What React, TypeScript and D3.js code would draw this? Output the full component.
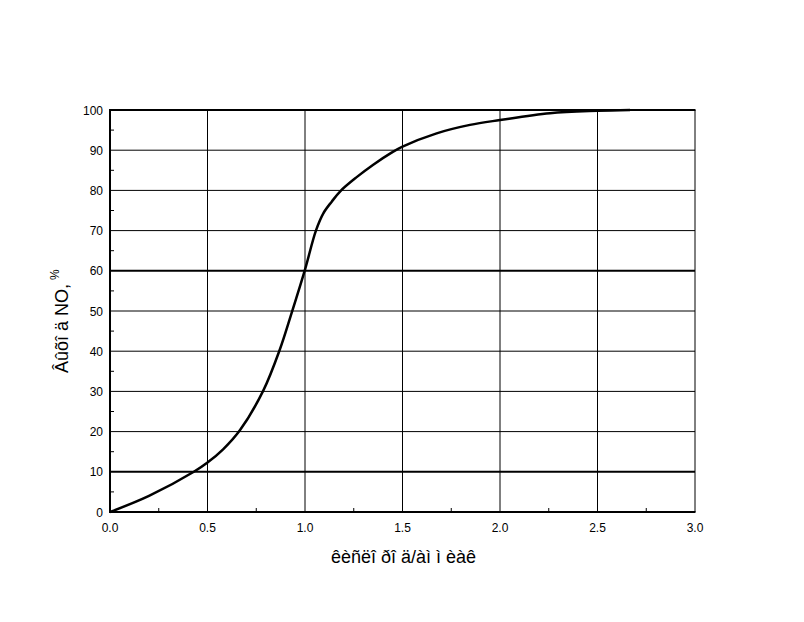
import * as d3 from 'd3';
import React from 'react';

// curve: ratio (x) vs NO yield, %
const ratio = [0, 0.2, 0.43, 0.5, 0.58, 0.667, 0.786, 0.87, 0.93, 1.0, 1.056, 1.094, 1.137, 1.183, 1.265, 1.35, 1.444, 1.5, 1.675, 1.846, 2.0, 2.256, 2.5, 2.667];
const yieldNO = [0, 4.0, 10, 12.3, 15.6, 20.4, 30.2, 40.3, 49.3, 60.3, 70, 74.3, 77.2, 79.9, 83.3, 86.4, 89.4, 90.9, 94.2, 96.3, 97.5, 99.2, 99.8, 100];

const xTicks = [0, 0.5, 1.0, 1.5, 2.0, 2.5, 3.0];
const xMinor = [0.25, 0.75, 1.25, 1.75, 2.25, 2.75];
const yTicks = [0, 10, 20, 30, 40, 50, 60, 70, 80, 90, 100];
const yMinor = [5, 15, 25, 35, 45, 55, 65, 75, 85, 95];
const yBold = [10, 60];

const xTitle = 'êèñëî ðî ä/àì ì èàê';
const yTitle = 'Âûõî ä NO,';

export default function App() {
  const margin = { top: 110, right: 109, bottom: 110, left: 110 };
  const width = 804;
  const height = 622;
  const x = d3.scaleLinear().domain([0, 3]).range([margin.left, width - margin.right]);
  const y = d3.scaleLinear().domain([0, 100]).range([height - margin.bottom, margin.top]);

  const pts = ratio.map((r, i) => [r, yieldNO[i]] as [number, number]);
  const line = d3
    .line<[number, number]>()
    .x(d => x(d[0]))
    .y(d => y(d[1]))
    .curve(d3.curveCatmullRom.alpha(0.5));

  const font = '"Liberation Sans", Arial, sans-serif';
  const [x0, x1] = x.range();
  const [y0, y1] = y.range();

  return (
    <svg width={width} height={height} style={{ position: 'absolute', left: 0, top: 0 }} fontFamily={font}>
      <rect width={width} height={height} fill="#fff" />
      {/* vertical grid */}
      {xTicks.slice(1, -1).map(t => (
        <line key={'vx' + t} x1={x(t)} x2={x(t)} y1={y0} y2={y1} stroke="#000" strokeWidth={1} />
      ))}
      {/* horizontal grid */}
      {yTicks.slice(1, -1).map(t => (
        <line key={'hy' + t} x1={x0} x2={x1} y1={y(t)} y2={y(t)} stroke="#000" strokeWidth={yBold.includes(t) ? 2 : 1} />
      ))}
      {/* minor ticks */}
      {xMinor.map(t => (
        <line key={'mx' + t} x1={x(t)} x2={x(t)} y1={y0} y2={y0 - 4} stroke="#000" strokeWidth={1} />
      ))}
      {yMinor.map(t => (
        <line key={'my' + t} x1={x0} x2={x0 + 4} y1={y(t)} y2={y(t)} stroke="#000" strokeWidth={1} />
      ))}
      {/* frame */}
      <line x1={x1} x2={x1} y1={y0} y2={y1} stroke="#000" strokeWidth={1} />
      <line x1={x0 - 1} x2={x1 + 0.5} y1={y1} y2={y1} stroke="#000" strokeWidth={2} />
      <line x1={x0 - 1} x2={x1 + 0.5} y1={y0} y2={y0} stroke="#000" strokeWidth={2} />
      <line x1={x0} x2={x0} y1={y0 + 1} y2={y1 - 1} stroke="#000" strokeWidth={2} />
      {/* curve */}
      <path d={line(pts) ?? ''} fill="none" stroke="#000" strokeWidth={2.5} />
      {/* tick labels */}
      {xTicks.map(t => (
        <text key={'tx' + t} x={x(t)} y={y0 + 20} fontSize={12} textAnchor="middle" fill="#000">
          {t.toFixed(1)}
        </text>
      ))}
      {yTicks.map(t => (
        <text key={'ty' + t} x={x0 - 7} y={y(t) + 4.5} fontSize={12} textAnchor="end" fill="#000">
          {t}
        </text>
      ))}
      {/* titles */}
      <text x={(x0 + x1) / 2 + 1} y={563} fontSize={18} textAnchor="middle" fill="#000">
        {xTitle}
      </text>
      <text transform="translate(68,373) rotate(-90)" fontSize={18} fill="#000">
        {yTitle}
        <tspan fontSize={12} dx={4} dy={-9}>%</tspan>
      </text>
    </svg>
  );
}
